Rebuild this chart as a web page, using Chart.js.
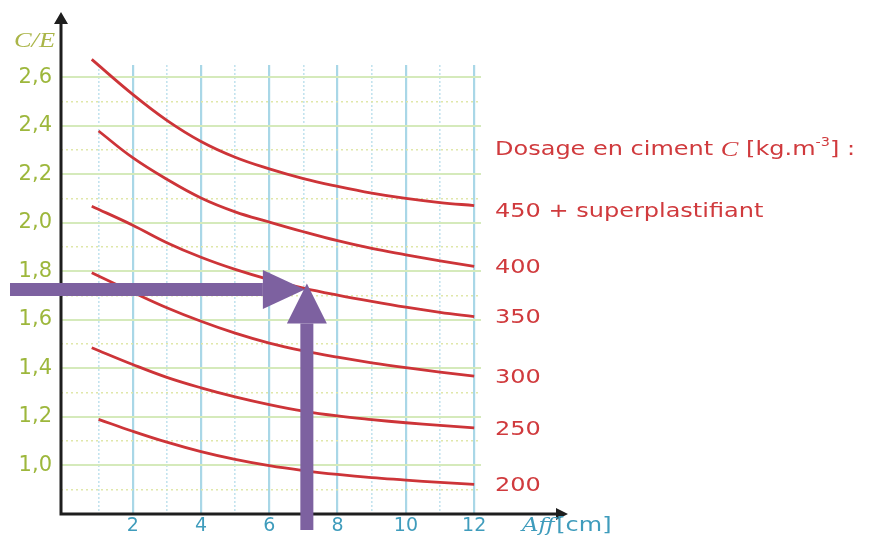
<!DOCTYPE html>
<html>
<head>
<meta charset="utf-8">
<script src="https://cdn.jsdelivr.net/npm/chart.js@4.4.1/dist/chart.umd.min.js"></script>
<style>
  html, body { margin: 0; padding: 0; background: #fff; }
  canvas { display: block; }
</style>
</head>
<body>
<canvas id="abaque" width="875" height="538"></canvas>
<script>
// Abaque : rapport C/E en fonction de l'affaissement, pour chaque dosage en ciment

// dosages (etiquettes a droite des courbes), dans l'ordre des courbes
const dosages = ["450 + superplastifiant", "400", "350", "300", "250", "200"];

// affaissement Aff [cm] des points lus sur chaque courbe
const aff450 = [0.8, 2, 3, 4, 5, 6, 7, 8, 9, 10, 11, 12];
const aff400 = [1, 2, 3, 4, 5, 6, 7, 8, 9, 10, 11, 12];
const aff350 = [0.8, 2, 3, 4, 5, 6, 7, 8, 9, 10, 11, 12];
const aff300 = [0.8, 2, 3, 4, 5, 6, 7, 8, 9, 10, 11, 12];
const aff250 = [0.8, 2, 3, 4, 5, 6, 7, 8, 9, 10, 11, 12];
const aff200 = [1, 2, 3, 4, 5, 6, 7, 8, 9, 10, 11, 12];

// rapport C/E
const ce450 = [2.673, 2.529, 2.422, 2.335, 2.270, 2.222, 2.182, 2.150, 2.122, 2.100, 2.083, 2.071];
const ce400 = [2.378, 2.268, 2.179, 2.102, 2.045, 2.003, 1.963, 1.926, 1.894, 1.868, 1.843, 1.820];
const ce350 = [2.068, 1.990, 1.918, 1.858, 1.808, 1.766, 1.731, 1.702, 1.676, 1.652, 1.631, 1.613];
const ce300 = [1.794, 1.714, 1.650, 1.594, 1.545, 1.504, 1.472, 1.446, 1.423, 1.403, 1.385, 1.368];
const ce250 = [1.485, 1.416, 1.363, 1.320, 1.283, 1.251, 1.224, 1.204, 1.189, 1.176, 1.165, 1.155];
const ce200 = [1.190, 1.141, 1.096, 1.057, 1.025, 0.999, 0.979, 0.963, 0.950, 0.940, 0.930, 0.922];

// graduations affichees
const xGraduations = [2, 4, 6, 8, 10, 12];
const yGraduations = [1.0, 1.2, 1.4, 1.6, 1.8, 2.0, 2.2, 2.4, 2.6];

// lecture de l'exemple (fleches violettes) : [Aff, C/E]
const lecture = [7.1, 1.725];

const rouge = "#cd3438";
const rougeTexte = "#d03a3d";
const vertTexte = "#9db73c";
const bleuTexte = "#3f9cbc";
const violet = "#7d61a0";
const etirement = 1.2; // le texte de l'original est etire en largeur

function points(xs, ys) {
  return xs.map((v, i) => ({ x: v, y: ys[i] }));
}

const series = [
  points(aff450, ce450),
  points(aff400, ce400),
  points(aff350, ce350),
  points(aff300, ce300),
  points(aff250, ce250),
  points(aff200, ce200),
];

const datasets = series.map((d, i) => ({
  label: dosages[i],
  data: d,
  borderColor: rouge,
  borderWidth: 2.8,
  pointRadius: 0,
  fill: false,
  tension: 0.4,
  clip: false,
}));

function texte(ctx, txt, x, y, font, couleur) {
  ctx.save();
  ctx.font = font;
  ctx.fillStyle = couleur;
  ctx.textBaseline = "middle";
  ctx.textAlign = "left";
  ctx.translate(x, y);
  ctx.scale(etirement, 1);
  ctx.fillText(txt, 0, 0);
  const w = ctx.measureText(txt).width * etirement;
  ctx.restore();
  return w;
}

const decor = {
  id: "decor",
  afterDatasetsDraw(chart) {
    const { ctx, chartArea: a, scales } = chart;
    const sx = scales.x;
    const sy = scales.y;

    // axes avec fleches
    ctx.save();
    ctx.strokeStyle = "#1e1e1e";
    ctx.fillStyle = "#1e1e1e";
    ctx.lineWidth = 3;
    ctx.beginPath();
    ctx.moveTo(a.left, a.bottom + 1.5);
    ctx.lineTo(a.left, a.top - 43);
    ctx.moveTo(a.left - 1.5, a.bottom);
    ctx.lineTo(a.right + 77, a.bottom);
    ctx.stroke();
    ctx.beginPath();
    ctx.moveTo(a.left, a.top - 53);
    ctx.lineTo(a.left - 7, a.top - 41);
    ctx.lineTo(a.left + 7, a.top - 41);
    ctx.closePath();
    ctx.moveTo(a.right + 87, a.bottom);
    ctx.lineTo(a.right + 75, a.bottom - 6);
    ctx.lineTo(a.right + 75, a.bottom + 6);
    ctx.closePath();
    ctx.fill();
    ctx.restore();

    // titres des axes
    texte(ctx, "C/E", a.left - 47, a.top - 24, "italic 22px 'Liberation Serif'", "#aab548");
    let px = a.right + 41;
    const yt = a.bottom + 12;
    px += texte(ctx, "Aff", px, yt, "italic 19px 'DejaVu Serif'", bleuTexte);
    texte(ctx, " [cm]", px - 6, yt, "20px 'DejaVu Sans'", bleuTexte);

    // legende des dosages
    const xl = a.right + 14;
    let xt = xl;
    const yTitre = 150;
    xt += texte(ctx, "Dosage en ciment ", xt, yTitre, "20px 'DejaVu Sans'", rougeTexte);
    xt += texte(ctx, "C", xt, yTitre, "italic 22px 'Liberation Serif'", rougeTexte);
    xt += texte(ctx, " [kg.m", xt, yTitre, "20px 'DejaVu Sans'", rougeTexte);
    xt += texte(ctx, "-3", xt, yTitre - 7, "12px 'DejaVu Sans'", rougeTexte);
    texte(ctx, "] :", xt, yTitre, "20px 'DejaVu Sans'", rougeTexte);

    series.forEach((d, i) => {
      const fin = d[d.length - 1];
      const yp = sy.getPixelForValue(fin.y) + (i === 0 ? 6 : 1.5);
      texte(ctx, dosages[i], xl, yp, "20px 'DejaVu Sans'", rougeTexte);
    });

    // fleches de lecture
    const lx = sx.getPixelForValue(lecture[0]);
    const ly = sy.getPixelForValue(lecture[1]);
    ctx.save();
    ctx.fillStyle = violet;
    // horizontale
    const tipH = lx - 2;
    ctx.fillRect(10, ly - 6.5, tipH - 42 - 10, 13);
    ctx.beginPath();
    ctx.moveTo(tipH, ly);
    ctx.lineTo(tipH - 42, ly - 19.5);
    ctx.lineTo(tipH - 42, ly + 19.5);
    ctx.closePath();
    ctx.fill();
    // verticale
    const tipV = ly - 6;
    ctx.fillRect(lx - 6.5, tipV + 40, 13, 530 - (tipV + 40));
    ctx.beginPath();
    ctx.moveTo(lx, tipV);
    ctx.lineTo(lx - 20, tipV + 40);
    ctx.lineTo(lx + 20, tipV + 40);
    ctx.closePath();
    ctx.fill();
    ctx.restore();
  },
};

function dixiemes(v) {
  return Math.round(v * 10);
}

new Chart(document.getElementById("abaque"), {
  type: "line",
  data: { datasets: datasets },
  options: {
    responsive: false,
    animation: false,
    layout: { padding: { top: 65, right: 394, left: 0, bottom: 0 } },
    plugins: { legend: { display: false }, tooltip: { enabled: false } },
    scales: {
      x: {
        type: "linear",
        min: -0.1,
        max: 12.2,
        afterFit: (s) => { s.height = 24; },
        ticks: {
          stepSize: 1,
          includeBounds: false,
          autoSkip: false,
          maxRotation: 0,
          padding: 1,
          color: bleuTexte,
          font: { family: "DejaVu Sans", size: 19 },
          callback: (v) => (xGraduations.includes(Math.round(v)) ? String(Math.round(v)) : ""),
        },
        grid: {
          drawTicks: false,
          color: (c) => {
            const v = Math.round(c.tick.value);
            if (v <= 0) return "rgba(0,0,0,0)";
            return v % 2 === 0 ? "#a9d7e7" : "#c3e3ee";
          },
          lineWidth: (c) => (Math.round(c.tick.value) % 2 === 0 ? 2.2 : 1.6),
        },
        border: {
          display: false,
          dash: (c) => (c.tick && Math.round(c.tick.value) % 2 !== 0 ? [2, 2] : []),
        },
      },
      y: {
        type: "linear",
        min: 0.8,
        max: 2.65,
        afterFit: (s) => { s.width = 61; },
        ticks: {
          stepSize: 0.1,
          includeBounds: false,
          autoSkip: false,
          padding: 9,
          color: vertTexte,
          font: { family: "DejaVu Sans", size: 21 },
          callback: (v) => {
            const t = dixiemes(v);
            return yGraduations.some((g) => dixiemes(g) === t) ? (t / 10).toFixed(1).replace(".", ",") : "";
          },
        },
        grid: {
          drawTicks: false,
          color: (c) => {
            const t = dixiemes(c.tick.value);
            if (t <= 8) return "rgba(0,0,0,0)";
            return t % 2 === 0 ? "#d5eabb" : "#e0e7a9";
          },
          lineWidth: (c) => (dixiemes(c.tick.value) % 2 === 0 ? 2 : 1.6),
        },
        border: {
          display: false,
          dash: (c) => (c.tick && dixiemes(c.tick.value) % 2 !== 0 ? [2, 3] : []),
        },
      },
    },
  },
  plugins: [decor],
});
</script>
</body>
</html>
